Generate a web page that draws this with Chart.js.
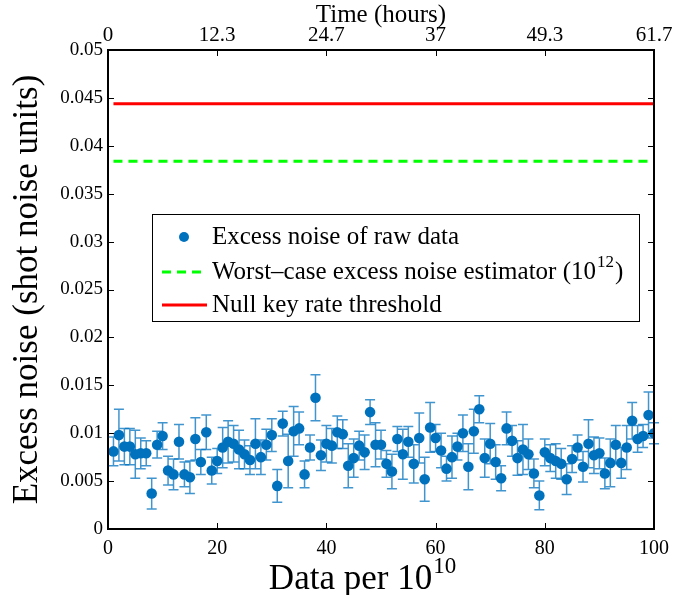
<!DOCTYPE html>
<html>
<head>
<meta charset="utf-8">
<style>
  html, body { margin: 0; padding: 0; background: #fff; }
</style>
<script src="https://cdn.jsdelivr.net/npm/chart.js@4.4.1/dist/chart.umd.min.js"></script>
</head>
<body>
<canvas id="noiseChart" width="677" height="595"></canvas>
<script>
// excess noise per block of 10^10 data (blocks 1..100)
const excessNoise = [
  0.0081, 0.0098, 0.0086, 0.0086, 0.0078, 0.0079, 0.0079, 0.0037, 0.0088, 0.0097,
  0.0061, 0.0057, 0.0091, 0.0057, 0.0054, 0.0094, 0.0070, 0.0101, 0.0061, 0.0071,
  0.0085, 0.0091, 0.0089, 0.0083, 0.0078, 0.0072, 0.0089, 0.0075, 0.0088, 0.0098,
  0.0045, 0.0110, 0.0071, 0.0102, 0.0105, 0.0057, 0.0085, 0.0137, 0.0077, 0.0089,
  0.0087, 0.0101, 0.0099, 0.0066, 0.0074, 0.0087, 0.0080, 0.0122, 0.0088, 0.0088,
  0.0068, 0.0060, 0.0094, 0.0078, 0.0091, 0.0068, 0.0095, 0.0052, 0.0106, 0.0095,
  0.0082, 0.0063, 0.0075, 0.0086, 0.0100, 0.0065, 0.0102, 0.0125, 0.0074, 0.0089,
  0.0070, 0.0053, 0.0105, 0.0092, 0.0074, 0.0083, 0.0078, 0.0058, 0.0035, 0.0080,
  0.0074, 0.0071, 0.0068, 0.0052, 0.0073, 0.0085, 0.0065, 0.0089, 0.0077, 0.0079,
  0.0058, 0.0069, 0.0088, 0.0069, 0.0085, 0.0113, 0.0094, 0.0097, 0.0119, 0.0100
];
// half length of each error bar
const noiseError = [
  0.0015, 0.0027, 0.0019, 0.0019, 0.0025, 0.0016, 0.0013, 0.0016, 0.0014, 0.0014,
  0.0015, 0.0016, 0.0018, 0.0013, 0.0017, 0.0022, 0.0013, 0.0018, 0.0014, 0.0013,
  0.0021, 0.0022, 0.0019, 0.0020, 0.0015, 0.0015, 0.0026, 0.0018, 0.0016, 0.0017,
  0.0017, 0.0013, 0.0028, 0.0026, 0.0017, 0.0014, 0.0013, 0.0024, 0.0016, 0.0019,
  0.0018, 0.0017, 0.0015, 0.0023, 0.0020, 0.0015, 0.0018, 0.0013, 0.0023, 0.0015,
  0.0014, 0.0018, 0.0013, 0.0026, 0.0016, 0.0020, 0.0026, 0.0023, 0.0026, 0.0014,
  0.0018, 0.0013, 0.0022, 0.0014, 0.0019, 0.0024, 0.0023, 0.0014, 0.0020, 0.0021,
  0.0018, 0.0013, 0.0017, 0.0016, 0.0018, 0.0026, 0.0016, 0.0015, 0.0015, 0.0014,
  0.0014, 0.0018, 0.0016, 0.0016, 0.0014, 0.0013, 0.0016, 0.0025, 0.0019, 0.0016,
  0.0016, 0.0025, 0.0020, 0.0016, 0.0023, 0.0019, 0.0014, 0.0012, 0.0024, 0.0011
];
const worstCaseEstimator = 0.0384;
const nullKeyThreshold = 0.0444;
const lineRange = [1, 100];

const topTickPositions = [0, 20, 40, 60, 80, 100];
const topTickLabels = ['0', '12.3', '24.7', '37', '49.3', '61.7'];

const serif = "'Liberation Serif', 'Times New Roman', serif";
Chart.defaults.color = '#000';

const points = excessNoise.map((v, i) => ({ x: i + 1, y: v }));

// vertical error bars with caps, drawn under the markers
const errorBars = {
  id: 'errorBars',
  beforeDatasetsDraw(chart) {
    const ctx = chart.ctx;
    const xs = chart.scales.x, ys = chart.scales.y;
    const ds = chart.data.datasets[0];
    ctx.save();
    ctx.strokeStyle = 'rgba(0,114,189,0.75)';
    ctx.lineWidth = 1.5;
    ds.data.forEach((p, i) => {
      const e = ds.errors[i];
      const px = xs.getPixelForValue(p.x);
      const top = ys.getPixelForValue(p.y + e);
      const bot = ys.getPixelForValue(p.y - e);
      ctx.beginPath();
      ctx.moveTo(px, top); ctx.lineTo(px, bot);
      ctx.moveTo(px - 5, top); ctx.lineTo(px + 5, top);
      ctx.moveTo(px - 5, bot); ctx.lineTo(px + 5, bot);
      ctx.stroke();
    });
    ctx.restore();
  }
};

// box around the axes with inward ticks, plus the bottom label with superscript
const frame = {
  id: 'frame',
  afterDatasetsDraw(chart) {
    const ctx = chart.ctx;
    const a = chart.chartArea;
    ctx.save();
    ctx.strokeStyle = '#000';
    ctx.lineWidth = 1;
    chart.scales.y.ticks.forEach(t => {
      const py = Math.round(chart.scales.y.getPixelForValue(t.value)) + 0.5;
      ctx.beginPath();
      ctx.moveTo(a.left, py); ctx.lineTo(a.left + 6, py);
      ctx.moveTo(a.right, py); ctx.lineTo(a.right - 6, py);
      ctx.stroke();
    });
    chart.scales.x.ticks.forEach(t => {
      const px = Math.round(chart.scales.x.getPixelForValue(t.value)) + 0.5;
      ctx.beginPath();
      ctx.moveTo(px, a.bottom); ctx.lineTo(px, a.bottom - 6);
      ctx.moveTo(px, a.top); ctx.lineTo(px, a.top + 6);
      ctx.stroke();
    });
    ctx.lineWidth = 2;
    ctx.strokeRect(a.left, a.top, a.right - a.left, a.bottom - a.top);

    // x axis title: Data per 10^10
    const main = 'Data per 10', sup = '10';
    ctx.fillStyle = '#000';
    ctx.textBaseline = 'alphabetic';
    ctx.font = '35px ' + serif;
    const w1 = ctx.measureText(main).width;
    ctx.font = '23px ' + serif;
    const w2 = ctx.measureText(sup).width;
    const x0 = 362 - (w1 + w2) / 2;
    ctx.font = '35px ' + serif;
    ctx.fillText(main, x0, 589);
    ctx.font = '23px ' + serif;
    ctx.fillText(sup, x0 + w1 + 1, 573);
    ctx.restore();
  }
};

// legend box inside the plot
const legendBox = {
  id: 'legendBox',
  afterDraw(chart) {
    const ctx = chart.ctx;
    const ds = chart.data.datasets;
    const bx = 152.5, by = 214.5, bw = 487, bh = 107;
    const rows = [237, 272, 305];
    ctx.save();
    ctx.fillStyle = '#fff';
    ctx.fillRect(bx, by, bw, bh);
    ctx.strokeStyle = '#000';
    ctx.lineWidth = 1;
    ctx.strokeRect(bx, by, bw, bh);

    ctx.fillStyle = ds[0].backgroundColor;
    ctx.beginPath();
    ctx.arc(184, rows[0], 5, 0, Math.PI * 2);
    ctx.fill();

    [1, 2].forEach((k, j) => {
      ctx.strokeStyle = ds[k].borderColor;
      ctx.lineWidth = ds[k].borderWidth;
      ctx.setLineDash(ds[k].borderDash || []);
      ctx.beginPath();
      ctx.moveTo(162, rows[j + 1]);
      ctx.lineTo(207, rows[j + 1]);
      ctx.stroke();
    });
    ctx.setLineDash([]);

    ctx.fillStyle = '#000';
    ctx.textBaseline = 'middle';
    ctx.font = '25px ' + serif;
    ctx.fillText(ds[0].label, 212, rows[0]);
    ctx.fillText(ds[2].label, 212, rows[2]);
    const p1 = 'Worst\u2013case excess noise estimator (10';
    ctx.fillText(p1, 212, rows[1]);
    const w = ctx.measureText(p1).width;
    ctx.font = '17px ' + serif;
    ctx.fillText('12', 212 + w + 1, rows[1] - 9);
    const ws = ctx.measureText('12').width;
    ctx.font = '25px ' + serif;
    ctx.fillText(')', 212 + w + ws + 2, rows[1]);
    ctx.restore();
  }
};

new Chart(document.getElementById('noiseChart'), {
  type: 'scatter',
  data: {
    datasets: [
      {
        label: 'Excess noise of raw data',
        data: points,
        errors: noiseError,
        backgroundColor: '#0072BD',
        borderColor: '#0072BD',
        borderWidth: 0,
        pointRadius: 5.3,
        pointHoverRadius: 5.3
      },
      {
        label: 'Worst\u2013case excess noise estimator (10^12)',
        type: 'line',
        data: lineRange.map(x => ({ x: x, y: worstCaseEstimator })),
        borderColor: '#00ff00',
        borderWidth: 3,
        borderDash: [9, 6],
        pointRadius: 0,
        fill: false
      },
      {
        label: 'Null key rate threshold',
        type: 'line',
        data: lineRange.map(x => ({ x: x, y: nullKeyThreshold })),
        borderColor: '#ff0000',
        borderWidth: 3,
        pointRadius: 0,
        fill: false
      }
    ]
  },
  options: {
    responsive: false,
    animation: false,
    layout: { padding: { left: 0, right: 21, top: 0, bottom: 0 } },
    plugins: { legend: { display: false }, tooltip: { enabled: false } },
    scales: {
      x: {
        type: 'linear',
        position: 'bottom',
        min: 0,
        max: 100,
        ticks: { stepSize: 20, padding: 8, maxRotation: 0, font: { family: serif, size: 20 } },
        grid: { display: false, drawTicks: false },
        border: { display: false },
        afterFit(s) { s.height = 66; }
      },
      x2: {
        type: 'linear',
        position: 'top',
        min: 0,
        max: 100,
        afterBuildTicks(s) { s.ticks = topTickPositions.map(v => ({ value: v })); },
        ticks: {
          padding: 2,
          maxRotation: 0,
          font: { family: serif, size: 21 },
          callback: (v, i) => topTickLabels[i]
        },
        title: { display: true, text: 'Time (hours)', font: { family: serif, size: 25 }, padding: { top: 0, bottom: 0 } },
        grid: { display: false, drawTicks: false },
        border: { display: false },
        afterFit(s) { s.height = 50; }
      },
      y: {
        min: 0,
        max: 0.05,
        ticks: {
          stepSize: 0.005,
          padding: 5,
          font: { family: serif, size: 19 },
          callback: v => String(+v.toFixed(4))
        },
        title: {
          display: true,
          text: 'Excess noise (shot noise units)',
          font: { family: serif, size: 35 },
          padding: { top: 7, bottom: 0 }
        },
        grid: { display: false, drawTicks: false },
        border: { display: false },
        afterFit(s) { s.width = 108; }
      }
    }
  },
  plugins: [errorBars, frame, legendBox]
});
</script>
</body>
</html>
